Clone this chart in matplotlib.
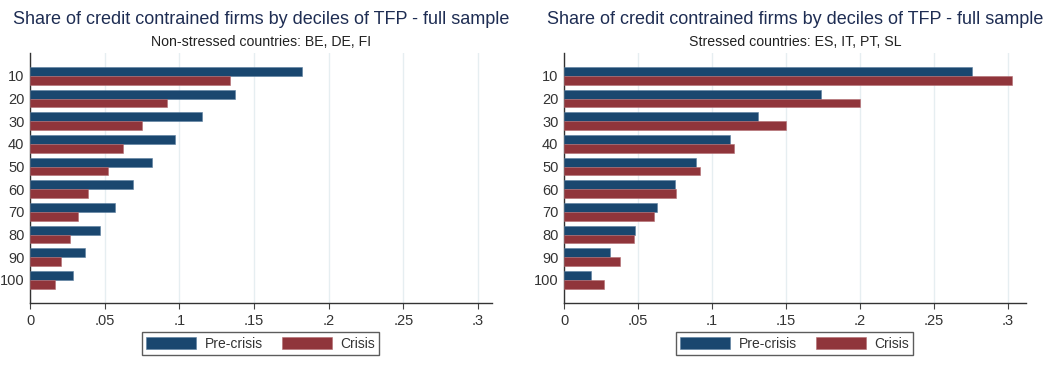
import matplotlib.pyplot as plt
import numpy as np

plt.rcParams['font.family'] = ['Liberation Sans', 'DejaVu Sans']

# TFP deciles and share of credit constrained firms
deciles = ['10', '20', '30', '40', '50', '60', '70', '80', '90', '100']

non_stressed_pre = [0.182, 0.137, 0.115, 0.097, 0.082, 0.069, 0.057, 0.047, 0.037, 0.029]
non_stressed_crisis = [0.134, 0.092, 0.075, 0.062, 0.052, 0.039, 0.032, 0.027, 0.021, 0.017]

stressed_pre = [0.276, 0.174, 0.131, 0.112, 0.089, 0.075, 0.063, 0.048, 0.031, 0.018]
stressed_crisis = [0.303, 0.200, 0.150, 0.115, 0.092, 0.076, 0.061, 0.047, 0.038, 0.027]

titulo = 'Share of credit contrained firms by deciles of TFP - full sample'
subtitulos = ['Non-stressed countries: BE, DE, FI', 'Stressed countries: ES, IT, PT, SL']
series = ['Pre-crisis', 'Crisis']

azul = '#1a476f'
rojo = '#90353b'
texto = '#333333'

fig = plt.figure(figsize=(10.49, 3.69), dpi=100)
fig.patch.set_facecolor('white')

paneles = [
    (0.0286, 0.309, non_stressed_pre, non_stressed_crisis, subtitulos[0]),
    (0.5377, 0.312, stressed_pre, stressed_crisis, subtitulos[1]),
]

y = np.arange(len(deciles))
alto = 0.39

for izq, xmax, pre, crisis, sub in paneles:
    ax = fig.add_axes([izq, 0.179, 0.440, 0.678])
    ax.barh(y - alto / 2, pre, height=alto, color=azul, edgecolor='#5b7fa0',
            linewidth=0.4, label=series[0], zorder=3)
    ax.barh(y + alto / 2, crisis, height=alto, color=rojo, edgecolor='#b36d72',
            linewidth=0.4, label=series[1], zorder=3)
    ax.set_ylim(len(deciles) - 1 + 1.02, -1.02)
    ax.set_xlim(0, xmax)
    ax.set_yticks(y)
    ax.set_yticklabels(deciles)
    xt = [0, 0.05, 0.1, 0.15, 0.2, 0.25, 0.3]
    ax.set_xticks(xt)
    ax.set_xticklabels(['0', '.05', '.1', '.15', '.2', '.25', '.3'])
    ax.grid(axis='x', color='#e6eef1', linewidth=1, zorder=0)
    ax.tick_params(axis='y', length=0, pad=4, labelsize=10.5, labelcolor=texto)
    ax.tick_params(axis='x', length=4, width=0.8, color='#444444', pad=4,
                   labelsize=10.5, labelcolor=texto)
    for lado in ['top', 'right']:
        ax.spines[lado].set_visible(False)
    for lado in ['left', 'bottom']:
        ax.spines[lado].set_color('#333333')
        ax.spines[lado].set_linewidth(1)

    ax.text(0.5, 1.132, titulo, transform=ax.transAxes, ha='center', va='center',
            fontsize=13, color='#1e2d53')
    ax.text(0.5, 1.044, sub, transform=ax.transAxes, ha='center', va='center',
            fontsize=10.2, color='#222222')

    leg = ax.legend(loc='upper center', bbox_to_anchor=(0.5, -0.09), ncol=2,
                    frameon=True, fancybox=False, fontsize=10,
                    handlelength=3.6, handleheight=1.0, columnspacing=1.4,
                    handletextpad=0.6, borderpad=0.3, labelcolor=texto)
    leg.get_frame().set_edgecolor('#333333')
    leg.get_frame().set_linewidth(1)

fig.savefig('out.png', dpi=100, facecolor='white')
